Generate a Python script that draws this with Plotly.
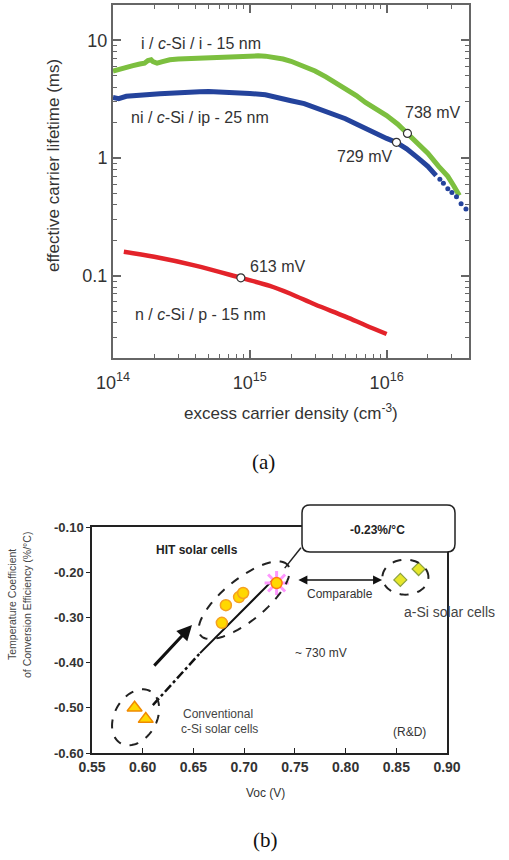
import numpy as np
import plotly.graph_objects as go

W, H = 509, 860

# ---------------- panel (a) data ----------------
green_n = [1.0e14, 1.1e14, 1.25e14, 1.4e14, 1.57e14, 1.7e14, 1.8e14, 1.9e14, 1.96e14, 2.1e14,
           2.3e14, 2.6e14, 3.0e14, 3.4e14, 3.9e14, 4.5e14, 5.1e14, 5.7e14, 6.5e14, 7.5e14,
           8.7e14, 1.0e15, 1.15e15, 1.3e15, 1.5e15, 1.75e15, 2.0e15, 2.4e15, 3.0e15, 3.6e15,
           4.2e15, 5.0e15, 6.0e15, 7.0e15, 8.5e15, 1.0e16, 1.2e16, 1.42e16, 1.74e16, 2.0e16,
           2.4e16, 2.8e16, 3.1e16, 3.4e16]
green_tau = [5.5, 5.7, 5.9, 6.1, 6.3, 6.4, 6.75, 6.85, 6.6, 6.4,
             6.6, 6.85, 6.95, 7.0, 7.1, 7.0, 7.05, 7.2, 7.15, 7.3,
             7.35, 7.45, 7.4, 7.35, 7.2, 6.95, 6.65, 6.1, 5.5, 4.9,
             4.4, 3.9, 3.4, 2.97, 2.6, 2.3, 1.95, 1.62, 1.3, 1.1,
             0.85, 0.7, 0.58, 0.48]

blue_n = [1.0e14, 1.1e14, 1.25e14, 1.5e14, 1.8e14, 2.2e14, 2.6e14, 3.0e14, 3.6e14, 4.3e14,
          5.0e14, 6.0e14, 7.5e14, 1.0e15, 1.3e15, 1.6e15, 2.0e15, 2.5e15, 3.0e15, 4.0e15,
          5.0e15, 6.0e15, 7.0e15, 8.5e15, 1.0e16, 1.18e16, 1.4e16, 1.7e16, 2.0e16, 2.3e16]
blue_tau = [3.27, 3.2, 3.35, 3.43, 3.45, 3.52, 3.55, 3.6, 3.62, 3.66,
            3.68, 3.66, 3.6, 3.54, 3.45, 3.3, 3.07, 2.9, 2.7, 2.4,
            2.16, 1.95, 1.78, 1.62, 1.47, 1.36, 1.2, 1.0, 0.85, 0.71]
blue_tail_n = [2.45e16, 2.6e16, 2.8e16, 3.0e16, 3.24e16, 3.5e16, 3.8e16]
blue_tail_tau = [0.66, 0.61, 0.55, 0.51, 0.47, 0.41, 0.37]

red_n = [1.2e14, 2.0e14, 4.0e14, 8.6e14, 1.4e15, 2.0e15, 3.0e15, 5.0e15, 7.0e15, 1.0e16]
red_tau = [0.16, 0.145, 0.122, 0.096, 0.082, 0.07, 0.057, 0.045, 0.038, 0.032]

voc_pts_n = [1.42e16, 1.18e16, 8.6e14]
voc_pts_tau = [1.62, 1.36, 0.096]

a_xtick_vals = [1e14, 1e15, 1e16]
a_xtick_text = ["10<sup>14</sup>", "10<sup>15</sup>", "10<sup>16</sup>"]
a_ytick_vals = [0.1, 1, 10]
a_ytick_text = ["0.1", "1", "10"]

# ---------------- panel (b) data ----------------
hit_voc = [0.682, 0.695, 0.699, 0.678]
hit_tc = [-0.273, -0.255, -0.246, -0.312]
best_voc = [0.732]
best_tc = [-0.224]
asi_voc = [0.854, 0.872]
asi_tc = [-0.217, -0.193]
conv_voc = [0.592, 0.603]
conv_tc = [-0.500, -0.525]

trend_dash_voc = [0.610, 0.6565]
trend_dash_tc = [-0.494, -0.379]
trend_solid_voc = [0.6565, 0.7285]
trend_solid_tc = [-0.379, -0.217]

b_xtick_vals = [0.55, 0.60, 0.65, 0.70, 0.75, 0.80, 0.85, 0.90]
b_xtick_text = ["0.55", "0.60", "0.65", "0.70", "0.75", "0.80", "0.85", "0.90"]
b_ytick_vals = [-0.10, -0.20, -0.30, -0.40, -0.50, -0.60]
b_ytick_text = ["-0.10", "-0.20", "-0.30", "-0.40", "-0.50", "-0.60"]

# ---------------- geometry helpers ----------------
def px(x):
    return x / W

def py(y):
    return 1 - y / H

# panel b axis pixel scales (for ellipse shapes)
BX0, BX1 = 92, 447
BY0, BY1 = 527, 753
XR = (0.55, 0.90)
YR = (-0.60, -0.10)
sx = (BX1 - BX0) / (XR[1] - XR[0])
sy = (BY1 - BY0) / (YR[1] - YR[0])

def ellipse_path(cx, cy, a, b, ang_deg):
    t = np.linspace(0, 2 * np.pi, 73)
    th = np.deg2rad(ang_deg)
    ex = a * np.cos(t) * np.cos(th) - b * np.sin(t) * np.sin(th)
    ey = a * np.cos(t) * np.sin(th) + b * np.sin(t) * np.cos(th)
    xs = cx + ex / sx
    ys = cy + ey / sy
    p = "M %.5f,%.5f " % (xs[0], ys[0])
    p += " ".join("L %.5f,%.5f" % (u, v) for u, v in zip(xs[1:], ys[1:]))
    return p + " Z"

fig = go.Figure()

# ---------------- panel (a) traces ----------------
fig.add_trace(go.Scatter(x=green_n, y=green_tau, mode="lines",
                         line=dict(color="#7cbf3f", width=5), xaxis="x", yaxis="y"))
fig.add_trace(go.Scatter(x=blue_n, y=blue_tau, mode="lines",
                         line=dict(color="#24439c", width=5), xaxis="x", yaxis="y"))
fig.add_trace(go.Scatter(x=blue_tail_n, y=blue_tail_tau, mode="markers",
                         marker=dict(color="#24439c", size=5), xaxis="x", yaxis="y"))
fig.add_trace(go.Scatter(x=red_n, y=red_tau, mode="lines",
                         line=dict(color="#e3232a", width=4.5, shape="spline"), xaxis="x", yaxis="y"))
fig.add_trace(go.Scatter(x=voc_pts_n, y=voc_pts_tau, mode="markers",
                         marker=dict(color="white", size=8, line=dict(color="#333", width=1.2)),
                         xaxis="x", yaxis="y"))

# ---------------- panel (b) traces ----------------
fig.add_trace(go.Scatter(x=trend_dash_voc, y=trend_dash_tc, mode="lines",
                         line=dict(color="#111", width=2.5, dash="dashdot"), xaxis="x2", yaxis="y2"))
fig.add_trace(go.Scatter(x=trend_solid_voc, y=trend_solid_tc, mode="lines",
                         line=dict(color="#111", width=2), xaxis="x2", yaxis="y2"))
fig.add_trace(go.Scatter(x=hit_voc, y=hit_tc, mode="markers",
                         marker=dict(symbol="circle", color="#ffd800", size=11,
                                     line=dict(color="#f5a020", width=1.5)),
                         xaxis="x2", yaxis="y2"))
fig.add_trace(go.Scatter(x=best_voc, y=best_tc, mode="markers",
                         marker=dict(symbol="asterisk-open", size=20,
                                     line=dict(color="#ff3a00", width=3)),
                         xaxis="x2", yaxis="y2"))
fig.add_trace(go.Scatter(x=best_voc, y=best_tc, mode="markers",
                         marker=dict(symbol="circle", color="#ffd800", size=11,
                                     line=dict(color="#ff7a10", width=1.5)),
                         xaxis="x2", yaxis="y2"))
fig.add_trace(go.Scatter(x=asi_voc, y=asi_tc, mode="markers",
                         marker=dict(symbol="diamond", color="#e6e62a", size=10,
                                     line=dict(color="#8aa040", width=1.2)),
                         xaxis="x2", yaxis="y2"))
fig.add_trace(go.Scatter(x=conv_voc, y=conv_tc, mode="markers",
                         marker=dict(symbol="triangle-up", color="#ffd800", size=13,
                                     line=dict(color="#f08a00", width=1.5)),
                         xaxis="x2", yaxis="y2"))

tickfont_a = dict(family="Liberation Sans, Arial", size=18, color="#333")
axis_a_common = dict(type="log", showline=True, linecolor="#666", linewidth=2, mirror="ticks",
                     ticks="inside", ticklen=8, tickwidth=1.5, tickcolor="#666",
                     showgrid=False, zeroline=False, tickfont=tickfont_a, tickmode="array",
                     automargin=False)

minor_x = [m * 10 ** e for e in (14, 15, 16) for m in range(2, 10)]
minor_y = [m * 10 ** e for e in (-2, -1, 0, 1) for m in range(2, 10)]
minor_common = dict(type="log", showline=False, mirror="ticks", ticks="inside", ticklen=4,
                    tickwidth=1.2, tickcolor="#666", showgrid=False, zeroline=False,
                    showticklabels=False, tickmode="array", automargin=False)

XA_RANGE = [14, np.log10(4e16)]
YA_RANGE = [np.log10(0.02), np.log10(20)]

fig.update_layout(
    width=W, height=H, margin=dict(l=0, r=0, t=0, b=0, pad=0, autoexpand=False),
    paper_bgcolor="white", plot_bgcolor="white", showlegend=False,
    xaxis=dict(domain=[px(113), px(469)], anchor="y", range=XA_RANGE,
               tickvals=a_xtick_vals, ticktext=a_xtick_text, ticklabelstandoff=7,
               **axis_a_common),
    yaxis=dict(domain=[py(358), py(5)], anchor="x", range=YA_RANGE,
               tickvals=a_ytick_vals, ticktext=a_ytick_text, **axis_a_common),
    xaxis3=dict(overlaying="x", anchor="y", side="bottom", range=XA_RANGE,
                tickvals=minor_x, **minor_common),
    yaxis3=dict(overlaying="y", anchor="x", side="left", range=YA_RANGE,
                tickvals=minor_y, **minor_common),
    xaxis2=dict(domain=[px(BX0), px(BX1)], anchor="y2", range=list(XR),
                tickmode="array", tickvals=b_xtick_vals, ticktext=b_xtick_text,
                showline=True, linecolor="#222", linewidth=1.5, mirror=True,
                ticks="inside", ticklen=5, tickwidth=1.2, tickcolor="#222",
                showgrid=False, zeroline=False, automargin=False,
                tickfont=dict(family="Liberation Sans, Arial", size=14, color="#333", weight="bold")),
    yaxis2=dict(domain=[py(BY1), py(BY0)], anchor="x2", range=list(YR),
                tickmode="array", tickvals=b_ytick_vals, ticktext=b_ytick_text,
                showline=True, linecolor="#222", linewidth=1.5, mirror=True,
                ticks="outside", ticklen=4, tickwidth=1.2, tickcolor="#222",
                showgrid=False, zeroline=False, automargin=False,
                tickfont=dict(family="Liberation Sans, Arial", size=13, color="#333", weight="bold")),
)

# invisible anchor trace so the minor-tick axes are drawn
fig.add_trace(go.Scatter(x=[1e15], y=[1], mode="markers", marker=dict(opacity=0),
                         xaxis="x3", yaxis="y3", hoverinfo="skip"))

# ---------------- shapes ----------------
shapes = []
ell_style = dict(type="path", xref="x2", yref="y2", line=dict(color="#222", width=2, dash="dash"),
                 layer="above")
shapes.append(dict(path=ellipse_path(0.700, -0.262, 56, 21, 39), **ell_style))
shapes.append(dict(path=ellipse_path(0.859, -0.211, 23, 17.5, 0), **ell_style))
shapes.append(dict(path=ellipse_path(0.593, -0.521, 30, 21, 60), **ell_style))

# callout line star -> box
shapes.append(dict(type="line", xref="x2", yref="y2", x0=0.740, y0=-0.191, x1=0.756, y1=-0.146,
                   line=dict(color="#222", width=1.5), layer="above"))

# rounded callout box
x0, x1, y0, y1 = px(302), px(455), py(552), py(505)
rx, ry = 8 / W, 8 / H
box = (f"M {x0+rx},{y0} L {x1-rx},{y0} Q {x1},{y0} {x1},{y0+ry} L {x1},{y1-ry} "
       f"Q {x1},{y1} {x1-rx},{y1} L {x0+rx},{y1} Q {x0},{y1} {x0},{y1-ry} "
       f"L {x0},{y0+ry} Q {x0},{y0} {x0+rx},{y0} Z")
shapes.append(dict(type="path", xref="paper", yref="paper", path=box,
                   line=dict(color="#222", width=1.5), fillcolor="white", layer="above"))
fig.update_layout(shapes=shapes)

# ---------------- annotations ----------------
ann = []
def txt(text, x, y, size, color="#333", family="Liberation Sans, Arial", angle=0, bold=False,
        xanchor="center"):
    ann.append(dict(text=text, x=px(x), y=py(y), xref="paper", yref="paper", showarrow=False,
                    xanchor=xanchor, yanchor="middle", textangle=angle,
                    font=dict(size=size, color=color, family=family,
                              weight="bold" if bold else "normal")))

# panel (a)
txt("i / <i>c</i>-Si / i - 15 nm", 201, 43, 16)
txt("ni / <i>c</i>-Si / ip - 25 nm", 200, 118, 16)
txt("738 mV", 432, 113, 16)
txt("729 mV", 364, 156, 16)
txt("613 mV", 277, 266, 16)
txt("n / <i>c</i>-Si / p - 15 nm", 200, 314, 16)
txt("effective carrier lifetime (ms)", 53, 166, 17, angle=-90)
txt("excess carrier density (cm<sup>-3</sup>)", 291, 412, 17)
txt("(a)", 263, 462, 21, color="#111", family="Liberation Serif, DejaVu Serif")

# panel (b)
txt("HIT solar cells", 197, 550, 12, color="#222", bold=True)
txt("-0.23%/°C", 377, 530, 12, color="#222", bold=True)
txt("Comparable", 340, 594, 12)
txt("a-Si solar cells", 449, 612, 14, color="#444")
txt("~ 730 mV", 321, 653, 12)
txt("Conventional", 218, 714, 12, color="#444")
txt("c-Si solar cells", 219, 729, 12, color="#444")
txt("(R&D)", 409, 732, 12)
txt("Voc (V)", 265, 793, 12)
txt("Temperature Coefficient", 12, 605, 10.5, color="#444", angle=-90)
txt("of Conversion Efficiency (%/°C)", 27, 605, 10.5, color="#444", angle=-90)
txt("(b)", 265, 840, 21, color="#111", family="Liberation Serif, DejaVu Serif")

# arrows
ann.append(dict(x=0.6486, y=-0.317, ax=0.610, ay=-0.410, xref="x2", yref="y2",
                axref="x2", ayref="y2", text="", showarrow=True, arrowhead=2, arrowsize=1,
                arrowwidth=3, arrowcolor="#111", standoff=0, startstandoff=0))
ann.append(dict(x=0.836, y=-0.217, ax=0.752, ay=-0.217, xref="x2", yref="y2",
                axref="x2", ayref="y2", text="", showarrow=True, arrowhead=2, arrowsize=1.2,
                arrowside="end+start", arrowwidth=1.5, arrowcolor="#111",
                standoff=0, startstandoff=0))
fig.update_layout(annotations=ann)

fig.write_html("out.html", config={"displayModeBar": False},
               post_script="document.body.style.margin='0';document.body.style.overflow='hidden';")
